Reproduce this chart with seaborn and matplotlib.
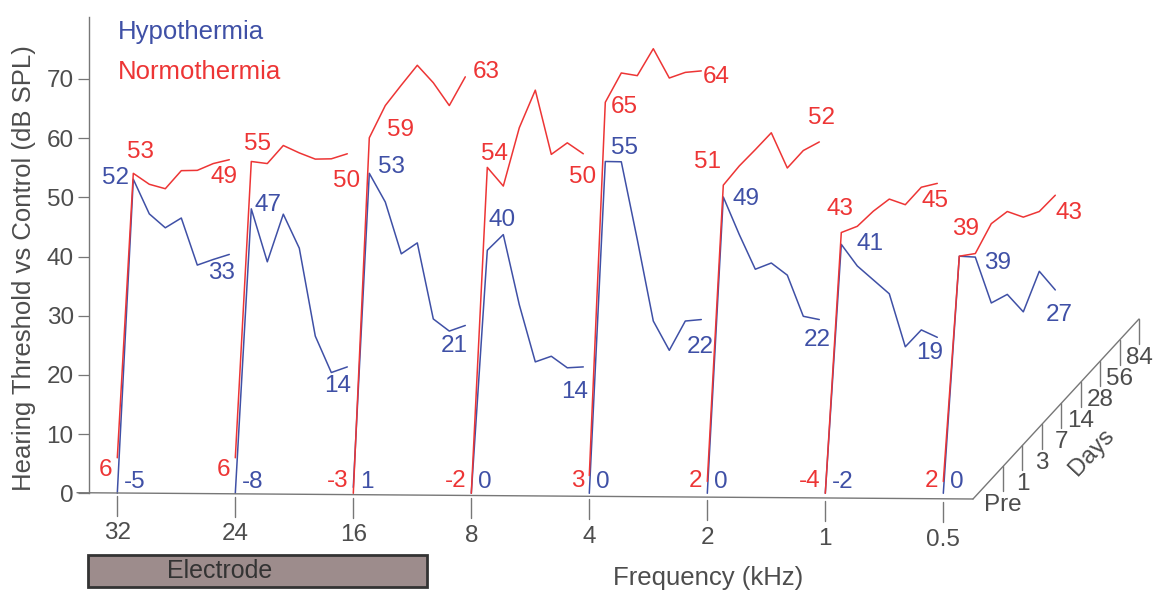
import matplotlib
matplotlib.use("Agg")
import matplotlib.pyplot as plt
import matplotlib.transforms as mtransforms
from matplotlib.patches import Rectangle
import pandas as pd
import seaborn as sns

# Data: threshold shift vs control (dB SPL), columns = Pre, day 1, 3, 7, 14, 28, 56, 84
freqs = ["32", "24", "16", "8", "4", "2", "1", "0.5"]
days = ["Pre", "1", "3", "7", "14", "28", "56", "84"]

hypothermia = [
    [-5, 52, 45.1, 41.7, 42.3, 33.3, 33.2, 33],
    [-8, 47, 37.0, 44.0, 37.2, 21.3, 14.1, 14],
    [1, 53, 47.1, 37.3, 38.1, 24.2, 21.1, 21],
    [0, 40, 41.6, 28.7, 18.0, 17.9, 14.9, 14],
    [0, 55, 53.9, 39.7, 24.9, 18.9, 22.8, 22],
    [0, 49, 41.6, 34.7, 34.7, 31.6, 23.6, 22],
    [-2, 41, 36.3, 32.9, 29.5, 19.5, 21.3, 19],
    [0, 39, 37.8, 29.0, 29.4, 25.4, 31.2, 27],
]
normothermia = [
    [6, 53, 50.1, 48.3, 50.3, 49.3, 49.4, 49],
    [6, 55, 53.6, 55.6, 53.3, 51.2, 50.2, 50],
    [-3, 59, 63.4, 65.8, 68.1, 64.1, 59.2, 63],
    [-2, 54, 49.8, 58.6, 63.9, 52.0, 52.9, 50],
    [3, 65, 68.9, 67.4, 70.9, 64.9, 64.8, 64],
    [2, 51, 53.2, 54.9, 56.7, 49.7, 51.6, 52],
    [-4, 43, 43.0, 44.5, 45.5, 43.5, 45.4, 45],
    [2, 39, 38.4, 42.4, 43.4, 41.4, 41.3, 43],
]

# Layout (pixels of the 1157x593 canvas)
W, H = 1157, 593
X0, DX = 117.3, 118.0      # px of first frequency, px per frequency
Y0, DY = 493.3, 5.92       # px of 0 dB, px per dB
STEP_X = 16 / DX           # depth shift per day (frequency units)
STEP_Y = 1.05              # depth shift per day (dB)

RED = "#ED3535"
BLUE = "#3F50A6"
TXT = "#4D4D4D"
AX = "#777777"

# label offsets in px (dx, dy up) for day-1 and day-84 value labels
red_d1 = [(7, 21), (6, 17), (31, 8), (7, 13), (19, -5), (-16, 23), (-1, 24), (6, 27)]
blue_d1 = [(-18, 1), (17, 4), (22, 6), (15, 30), (19, 13), (23, -2), (29, 0), (38, -7)]
red_d84 = [(-5, -17), (-1, -27), (21, 5), (-1, -23), (15, -6), (2, 24), (-2, -18), (14, -18)]
blue_d84 = [(-8, -19), (-10, -19), (-11, -21), (-9, -25), (-1, -27), (-2, -20), (-8, -16), (4, -25)]

sns.set_theme(style="white")
plt.rcParams["font.family"] = ["Liberation Sans", "DejaVu Sans"]

# long-form table with pseudo-3D positions
rows = []
for cond, table in [("Hypothermia", hypothermia), ("Normothermia", normothermia)]:
    for fi, f in enumerate(freqs):
        for di, d in enumerate(days):
            v = table[fi][di]
            rows.append({
                "condition": cond, "freq": f, "day": d, "value": v,
                "x": fi + di * STEP_X,
                "y": max(v, 0) + di * STEP_Y,
            })
df = pd.DataFrame(rows)

fig = plt.figure(figsize=(W / 100, H / 100), dpi=100)
left_px, right_px, top_px, bot_px = 89, 1150, 17, 590
ax = fig.add_axes([left_px / W, (H - bot_px) / H,
                   (right_px - left_px) / W, (bot_px - top_px) / H])
ax.set_xlim((left_px - X0) / DX, (right_px - X0) / DX)
ymax = (Y0 - top_px) / DY
ax.set_ylim((Y0 - bot_px) / DY, ymax)

sns.lineplot(data=df, x="x", y="y", hue="condition", units="freq",
             estimator=None, sort=False, palette={"Hypothermia": BLUE, "Normothermia": RED},
             hue_order=["Hypothermia", "Normothermia"], linewidth=1.1,
             legend=False, ax=ax)
for line in ax.lines:
    line.set_clip_on(False)

# y axis
for s in ["top", "right", "bottom"]:
    ax.spines[s].set_visible(False)
ax.spines["left"].set_bounds(0, ymax)
ax.spines["left"].set_color(AX)
ax.spines["left"].set_linewidth(1.0)
ax.set_yticks(range(0, 80, 10))
ax.tick_params(axis="y", left=True, length=8, width=0.9, color=AX,
               labelsize=17.5, labelcolor=TXT, pad=3)
ax.set_xticks([])
ax.set_xlabel("")
ax.set_ylabel("")

# pixel transform (origin top-left) for the decorations
px = mtransforms.Affine2D().scale(1 / W, -1 / H).translate(0, 1) + fig.transFigure

# sloped frequency baseline and ticks
bx0, by0, bx1, by1 = 77, 492.7, 973, 499
def base_y(x):
    return by0 + (by1 - by0) * (x - bx0) / (bx1 - bx0)

ax.plot([bx0, bx1], [by0, by1], color=AX, lw=1.0, transform=px, clip_on=False)
for fi, f in enumerate(freqs):
    xp = X0 + fi * DX
    yb = base_y(xp)
    ax.plot([xp, xp], [yb + 3, yb + 23], color=AX, lw=1.0, transform=px, clip_on=False)
    ax.text(xp, 533 + fi * 1.0, f, transform=px, ha="center", va="center",
            fontsize=17.5, color=TXT)

# days axis
dx0, dy0, dx1, dy1 = 973, 499, 1139, 319
ax.plot([dx0, dx1], [dy0, dy1], color=AX, lw=1.0, transform=px, clip_on=False)
t0 = 1003
for i, d in enumerate(days):
    xt = t0 + i * (dx1 - t0) / (len(days) - 1)
    yt = dy0 + (dy1 - dy0) * (xt - dx0) / (dx1 - dx0)
    ax.plot([xt, xt], [yt, yt + 25], color=AX, lw=1.0, transform=px, clip_on=False)
    ax.text(xt, yt + 39, d, transform=px, ha="center", va="center",
            fontsize=17.5, color=TXT)
ax.text(1092, 452, "Days", transform=px, ha="center", va="center",
        rotation=47, fontsize=17.5, color=TXT)

# value labels
for cond, table, col, o1, o84 in [("Hypothermia", hypothermia, BLUE, blue_d1, blue_d84),
                                  ("Normothermia", normothermia, RED, red_d1, red_d84)]:
    sub = df[df["condition"] == cond]
    for fi, f in enumerate(freqs):
        g = sub[sub["freq"] == f].reset_index(drop=True)
        pre = g.loc[0, "value"]
        if cond == "Normothermia":
            ax.annotate(f"{pre:g}", xy=(g.loc[0, "x"], max(pre - 2, 2)), xytext=(-5, 0),
                        textcoords="offset pixels", ha="right", va="center",
                        fontsize=17.5, color=col, annotation_clip=False)
        else:
            ax.annotate(f"{pre:g}", xy=(g.loc[0, "x"], 1.9), xytext=(7, 0),
                        textcoords="offset pixels", ha="left", va="center",
                        fontsize=17.5, color=col, annotation_clip=False)
        for idx, off in [(1, o1[fi]), (7, o84[fi])]:
            ax.annotate(f"{g.loc[idx, 'value']:g}", xy=(g.loc[idx, "x"], g.loc[idx, "y"]),
                        xytext=off, textcoords="offset pixels", ha="center", va="center",
                        fontsize=17.5, color=col, annotation_clip=False)

# legend text
ax.text(118, 32, "Hypothermia", transform=px, ha="left", va="center", fontsize=18.5, color=BLUE)
ax.text(118, 72, "Normothermia", transform=px, ha="left", va="center", fontsize=18.5, color=RED)

# axis titles
ax.text(24, 268, "Hearing Threshold vs Control (dB SPL)", transform=px, rotation=90,
        ha="center", va="center", fontsize=18.5, color=TXT)
ax.text(708, 578, "Frequency (kHz)", transform=px, ha="center", va="center",
        fontsize=18.5, color=TXT)

# electrode bar
ax.add_patch(Rectangle((88, 555), 339, 32, transform=px, facecolor="#9D8C8C",
                       edgecolor="#333333", linewidth=2.0, clip_on=False, zorder=3))
ax.text(220, 571, "Electrode", transform=px, ha="center", va="center",
        fontsize=18, color="#333333", zorder=4)

fig.savefig("out.png", dpi=100)
